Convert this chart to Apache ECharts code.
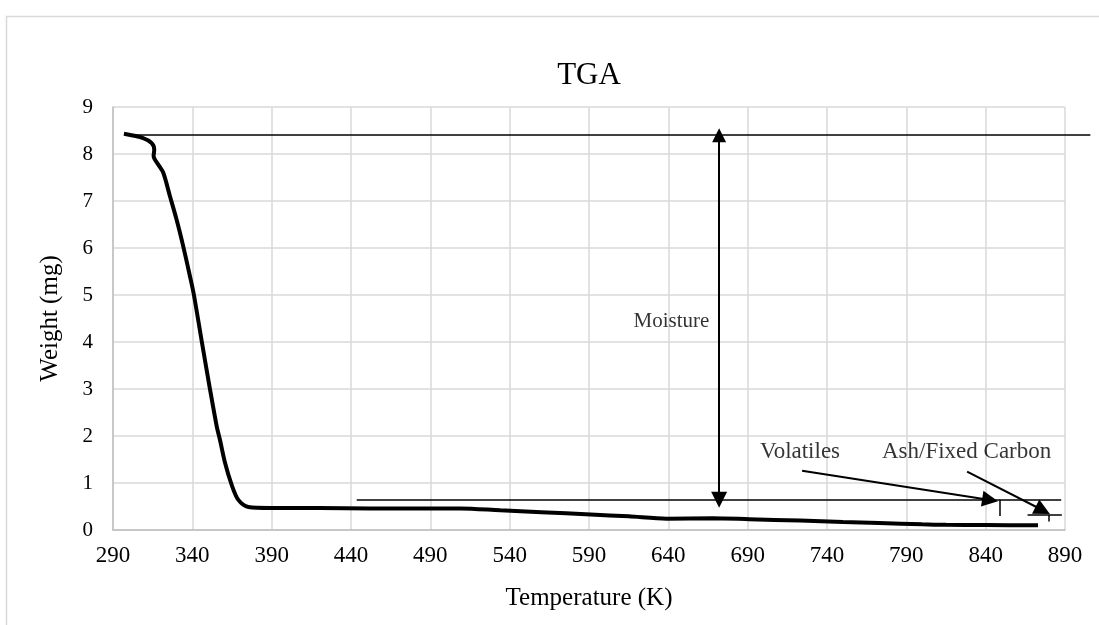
<!DOCTYPE html>
<html>
<head>
<meta charset="utf-8">
<script src="https://cdn.jsdelivr.net/npm/echarts@6/dist/echarts.min.js"></script>
<style>html,body{margin:0;padding:0;background:#fff;}#c{width:1099px;height:625px;}</style>
</head>
<body>
<div id="c"></div>
<script>
// TGA curve
var temperature = [296.9, 309, 314.4, 316, 315.6, 318.6, 321.7, 325.9, 330.1, 334.3, 338.5, 341, 346, 351, 355.4, 357.4, 360.6, 364.8, 369, 375.3, 389, 420, 452, 480, 509, 534, 560, 591, 615, 639, 668, 691, 723, 750, 773, 800, 815, 840, 873];
var weight = [8.43, 8.34, 8.23, 8.09, 7.96, 7.77, 7.6, 7.10, 6.60, 6.03, 5.40, 5.0, 4.0, 3.02, 2.2, 1.92, 1.43, 0.96, 0.64, 0.49, 0.47, 0.47, 0.46, 0.46, 0.46, 0.42, 0.38, 0.33, 0.29, 0.24, 0.25, 0.23, 0.20, 0.17, 0.15, 0.12, 0.11, 0.105, 0.10];

// Reference (annotation) lines, in data units: [x1, y1, x2, y2]
var refLines = [
  [298, 8.40, 906, 8.40],
  [443.6, 0.645, 887.6, 0.645],
  [849, 0.645, 849, 0.30],
  [866.4, 0.32, 888, 0.32],
  [880, 0.32, 880, 0.18]
];
// Arrows: [x1, y1, x2, y2, doubleHeaded]
var arrows = [
  [672, 8.40, 672, 0.645, true],
  [724.3, 1.26, 842.8, 0.64, false],
  [828.3, 1.24, 876, 0.42, false]
];
// Annotation texts
var noteText = ['Moisture', 'Volatiles', 'Ash/Fixed Carbon'];
var noteX = [642, 723, 828];
var noteY = [4.43, 1.67, 1.65];
var noteSize = [21, 23, 23];

var xTicks = {min: 290, max: 890, interval: 50};
var yTicks = {min: 0, max: 9, interval: 1};

var FONT = 'Liberation Serif';

var curve = temperature.map(function (t, i) { return [t, weight[i]]; });

var series = [{
  type: 'line',
  data: curve,
  showSymbol: false,
  smooth: 0.3,
  lineStyle: {color: '#000', width: 4},
  z: 5
}];

series.push({
  type: 'lines',
  coordinateSystem: 'cartesian2d',
  clip: false,
  data: refLines.map(function (l) {
    return {coords: [[l[0], l[1]], [l[2], l[3]]]};
  }),
  symbol: 'none',
  lineStyle: {color: '#000', width: 1.5, opacity: 1},
  z: 4
});

series.push({
  type: 'lines',
  coordinateSystem: 'cartesian2d',
  clip: false,
  data: arrows.map(function (a) {
    return {
      coords: [[a[0], a[1]], [a[2], a[3]]],
      symbol: [a[4] ? 'triangle' : 'none', 'triangle']
    };
  }),
  symbolSize: [14, 16],
  lineStyle: {color: '#000', width: 2, opacity: 1},
  itemStyle: {color: '#000'},
  z: 6
});

series.push({
  type: 'scatter',
  data: noteText.map(function (t, i) {
    return {value: [noteX[i], noteY[i]], name: t, label: {fontSize: noteSize[i]}};
  }),
  symbolSize: 0,
  silent: true,
  label: {
    show: true,
    position: 'inside',
    formatter: function (p) { return p.name; },
    color: '#000',
    fontFamily: FONT,
    fontSize: 23
  },
  z: 7
});

var chart = echarts.init(document.getElementById('c'), null, {renderer: 'canvas'});
chart.setOption({
  animation: false,
  backgroundColor: '#fff',
  title: {
    text: 'TGA',
    left: 584,
    textAlign: 'center',
    top: 55,
    textStyle: {fontFamily: FONT, fontSize: 31, fontWeight: 'normal', color: '#000'}
  },
  graphic: [{
    type: 'rect',
    left: 4, top: 14,
    shape: {width: 1200, height: 700},
    style: {fill: 'none', stroke: '#d9d9d9', lineWidth: 1.5},
    silent: true,
    z: -10
  }],
  grid: {left: 113, top: 107, right: 34, bottom: 95},
  xAxis: {
    type: 'value',
    min: xTicks.min, max: xTicks.max, interval: xTicks.interval,
    name: 'Temperature (K)',
    nameLocation: 'middle',
    nameGap: 56,
    nameTextStyle: {fontFamily: FONT, fontSize: 25, color: '#000'},
    axisLine: {show: true, lineStyle: {color: '#bfbfbf', width: 1.5}},
    axisTick: {show: false},
    axisLabel: {fontFamily: FONT, fontSize: 23, color: '#000', margin: 14},
    splitLine: {show: true, lineStyle: {color: '#d9d9d9', width: 1.5}}
  },
  yAxis: {
    type: 'value',
    min: yTicks.min, max: yTicks.max, interval: yTicks.interval,
    name: 'Weight (mg)',
    nameLocation: 'middle',
    nameGap: 50,
    nameTextStyle: {fontFamily: FONT, fontSize: 25, color: '#000'},
    axisLine: {show: true, lineStyle: {color: '#bfbfbf', width: 1.5}},
    axisTick: {show: false},
    axisLabel: {fontFamily: FONT, fontSize: 21, color: '#000', margin: 20},
    splitLine: {show: true, lineStyle: {color: '#d9d9d9', width: 1.5}}
  },
  series: series
});
</script>
</body>
</html>
